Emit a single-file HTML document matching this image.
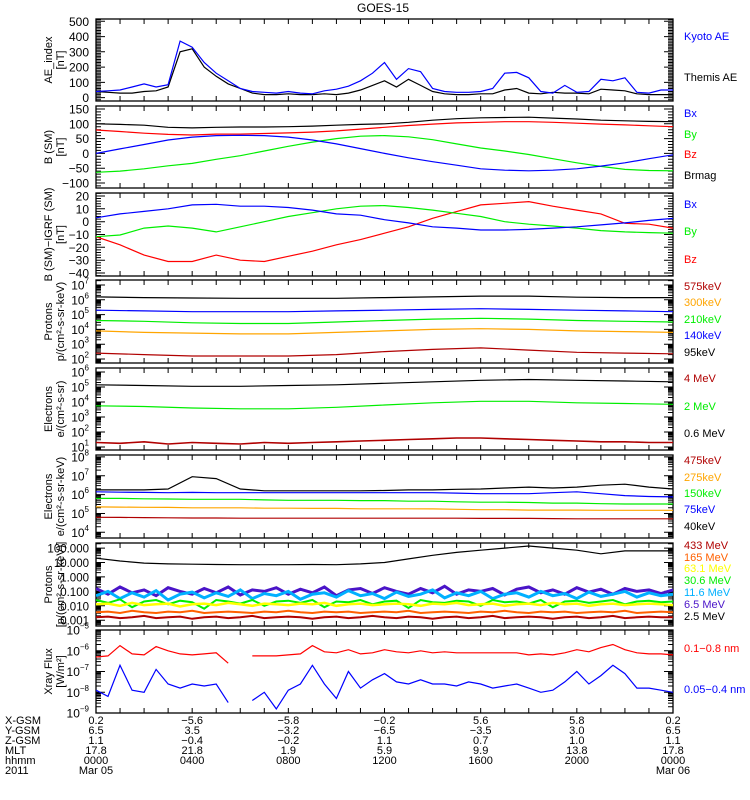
<!DOCTYPE html>
<html><head><meta charset="utf-8"><title>GOES-15</title>
<style>
html,body{margin:0;padding:0;background:#fff;}
svg{display:block;font-family:"Liberation Sans",sans-serif;}
</style></head>
<body>
<svg id="chart" width="750" height="800" viewBox="0 0 750 800" xmlns="http://www.w3.org/2000/svg">
<rect width="750" height="800" fill="#fff"/>
<text x="383" y="12" font-size="12" text-anchor="middle" fill="#000">GOES-15</text>
<g id="plots"></g>
</svg>
<script>
// ---------- data (time axis: hours 0..24, evenly spaced per array) ----------
const hourTicks = ["0000","0400","0800","1200","1600","2000","0000"];
const xGsm = ["0.2","-5.6","-5.8","-0.2","5.6","5.8","0.2"];
const yGsm = ["6.5","3.5","-3.2","-6.5","-3.5","3.0","6.5"];
const zGsm = ["1.1","-0.4","-0.2","1.1","0.7","1.0","1.1"];
const mltVals = ["17.8","21.8","1.9","5.9","9.9","13.8","17.8"];
const dateLabels = ["Mar 05","","","","","","Mar 06"];

// Panel 1: AE index (nT), every 30 min
const aeKyoto = [40,45,50,70,90,70,85,370,330,230,160,110,60,40,35,30,40,30,25,45,55,75,110,160,230,120,190,170,60,40,35,35,40,60,160,165,130,40,30,80,35,40,120,110,130,35,30,50,50];
const aeThemis = [40,35,30,30,40,45,70,300,320,200,140,90,60,30,20,20,25,20,20,25,20,30,50,80,110,70,120,80,40,25,20,20,25,25,50,60,30,25,35,30,30,25,55,50,45,25,20,20,20];

// Panel 2: B (SM) nT, hourly
const bsmBx = [0,15,30,45,55,60,61,60,55,45,32,16,0,-15,-28,-40,-52,-57,-59,-57,-52,-43,-32,-18,-5];
const bsmBy = [-64,-60,-52,-42,-34,-20,-8,8,24,38,50,58,60,56,46,32,18,8,-4,-18,-32,-44,-54,-58,-59];
const bsmBz = [79,74,68,64,62,65,65,67,69,72,76,82,88,94,99,103,105,107,107,105,102,99,96,93,90];
const bsmBmag = [100,98,95,88,86,88,89,89,90,92,95,98,100,105,112,117,120,121,122,119,116,112,110,108,107];

// Panel 3: B(SM)-IGRF nT, hourly
const dbBx = [3,6,8,10,13,13.5,12,12,11,9,6,5,1.5,-1,-4,-5,-6.5,-6.5,-6,-5,-4,-2.5,-1,1,2.5];
const dbBy = [-11.7,-10.4,-5,-3.4,-5,-8,-4,0,4,7,10,12,12.5,11,9,6.5,4,0,-2,-3.4,-5,-7,-8,-8.5,-9];
const dbBz = [-11.7,-18,-26,-31,-31,-26,-30,-31,-27,-23,-18,-14,-9,-4,2.6,7.8,13,14.3,15.6,12,9,6,-1.3,-2,-5];

// Panel 4: protons log10 flux, every 2 h
const pLog95 = [2.4,2.3,2.2,2.2,2.2,2.3,2.5,2.65,2.75,2.6,2.45,2.4,2.35];
const pLog140 = [3.9,3.8,3.75,3.7,3.7,3.8,3.9,4.0,4.05,4.0,3.9,3.85,3.8];
const pLog210 = [4.6,4.55,4.45,4.4,4.4,4.5,4.6,4.7,4.75,4.7,4.6,4.55,4.5];
const pLog300 = [5.3,5.25,5.2,5.2,5.2,5.25,5.3,5.35,5.4,5.35,5.3,5.25,5.2];
const pLog575 = [6.2,6.15,6.12,6.1,6.1,6.1,6.15,6.2,6.25,6.25,6.18,6.15,6.15];

// Panel 5: electrons (MeV) log10 flux
const eLog06 = [5.15,5.1,5.05,5.05,5.1,5.15,5.25,5.35,5.45,5.5,5.45,5.4,5.35];
const eLog2 = [3.75,3.7,3.6,3.55,3.55,3.65,3.8,3.95,4.05,4.05,3.95,3.9,3.85];
const eLog4 = [1.3,1.25,1.35,1.2,1.3,1.25,1.2,1.3,1.25,1.3,1.35,1.4,1.45,1.5,1.55,1.6,1.6,1.55,1.5,1.45,1.4,1.35,1.35,1.3,1.3];

// Panel 6: electrons (keV) log10 flux, hourly
const ekLog40 = [6.25,6.25,6.25,6.3,6.95,6.85,6.3,6.2,6.2,6.2,6.2,6.2,6.22,6.25,6.25,6.28,6.3,6.35,6.4,6.35,6.4,6.5,6.55,6.4,6.3];
const ekLog75 = [6.15,6.13,6.12,6.1,6.12,6.1,6.1,6.1,6.1,6.1,6.1,6.1,6.1,6.1,6.1,6.08,6.05,6.05,6.05,6.1,6.15,6.05,5.95,5.9,5.88];
const ekLog150 = [5.8,5.8,5.78,5.77,5.75,5.75,5.75,5.72,5.7,5.7,5.7,5.68,5.68,5.65,5.65,5.62,5.6,5.6,5.58,5.55,5.55,5.52,5.5,5.5,5.5];
const ekLog275 = [5.35,5.34,5.33,5.32,5.3,5.3,5.3,5.28,5.28,5.27,5.27,5.25,5.25,5.25,5.24,5.22,5.2,5.2,5.18,5.18,5.18,5.17,5.17,5.17,5.17];
const ekLog475 = [4.8,4.79,4.78,4.77,4.76,4.76,4.75,4.75,4.75,4.75,4.75,4.75,4.75,4.75,4.75,4.75,4.74,4.74,4.74,4.73,4.72,4.72,4.72,4.72,4.72];

// Panel 7: high-energy protons log10 flux
const hpLog25 = [1.3,1.1,0.96,0.9,0.88,0.86,0.85,0.85,0.85,0.86,0.85,0.9,1.0,1.25,1.5,1.7,1.85,2.0,2.14,2.0,1.85,1.6,1.8,1.8,1.8];
const hpLog65 = [-0.8,-1.2,-0.7,-1.1,-0.9,-1.3,-0.75,-1.0,-1.2,-0.8,-1.1,-0.7,-1.25,-0.9,-1.0,-0.75,-1.2,-0.85,-1.1,-0.7,-1.3,-0.9,-0.8,-1.15,-0.75,-1.0,-1.2,-0.8,-1.1,-0.65,-1.2,-0.9,-1.0,-0.8,-1.25,-0.85,-0.7,-1.1,-0.9,-1.2,-0.75,-1.05,-0.85,-1.2,-0.8,-1.0,-0.9,-1.15,-0.9];
const hpLog116 = [-1.3,-1.0,-1.5,-1.1,-1.4,-0.95,-1.6,-1.2,-1.05,-1.45,-1.1,-1.35,-0.9,-1.5,-1.15,-1.3,-1.0,-1.55,-1.2,-1.1,-1.4,-0.95,-1.3,-1.15,-1.5,-1.05,-1.35,-1.2,-0.9,-1.45,-1.1,-1.3,-1.0,-1.5,-1.2,-1.1,-1.4,-1.0,-1.3,-1.15,-1.5,-1.05,-1.35,-1.2,-1.0,-1.4,-1.1,-1.3,-1.2];
const hpLog306 = [-1.6,-1.8,-1.55,-2.1,-1.7,-1.6,-1.9,-1.65,-1.75,-2.2,-1.6,-1.7,-1.85,-1.6,-2.0,-1.7,-1.65,-1.8,-1.6,-2.1,-1.7,-1.75,-1.6,-1.9,-1.7,-1.65,-2.15,-1.6,-1.75,-1.8,-1.65,-1.7,-2.0,-1.6,-1.75,-1.7,-1.85,-1.6,-2.1,-1.7,-1.65,-1.8,-1.7,-1.6,-1.9,-1.7,-1.65,-1.75,-1.7];
const hpLog631 = [-1.9,-1.85,-2.0,-1.8,-1.95,-1.9,-1.85,-2.05,-1.9,-1.85,-1.95,-1.8,-1.9,-2.0,-1.85,-1.9,-1.95,-1.85,-1.9,-1.8,-2.0,-1.9,-1.85,-1.95,-1.9,-1.85,-1.9,-2.0,-1.85,-1.9,-1.8,-1.95,-1.9,-1.85,-2.0,-1.9,-1.85,-1.95,-1.8,-1.9,-1.85,-2.0,-1.9,-1.85,-1.95,-1.9,-1.85,-1.9,-1.95];
const hpLog165 = [-2.45,-2.4,-2.5,-2.35,-2.45,-2.5,-2.4,-2.45,-2.35,-2.5,-2.45,-2.4,-2.45,-2.5,-2.4,-2.45,-2.35,-2.45,-2.5,-2.4,-2.45,-2.4,-2.5,-2.45,-2.4,-2.45,-2.35,-2.5,-2.45,-2.4,-2.45,-2.5,-2.4,-2.45,-2.35,-2.45,-2.5,-2.4,-2.45,-2.4,-2.5,-2.45,-2.4,-2.45,-2.35,-2.5,-2.45,-2.4,-2.45];
const hpLog433 = [-2.8,-2.75,-2.85,-2.8,-2.7,-2.85,-2.8,-2.75,-2.9,-2.8,-2.75,-2.85,-2.8,-2.7,-2.85,-2.8,-2.75,-2.8,-2.9,-2.8,-2.75,-2.85,-2.8,-2.7,-2.8,-2.85,-2.75,-2.8,-2.9,-2.8,-2.75,-2.85,-2.8,-2.7,-2.85,-2.8,-2.75,-2.8,-2.9,-2.8,-2.75,-2.85,-2.8,-2.7,-2.85,-2.8,-2.75,-2.8,-2.8];

// Panel 8: X-ray flux log10 (W/m^2), every 30 min, null = data gap
const xrLong = [-6.3,-6.25,-5.75,-6.15,-6.2,-5.8,-6.0,-6.15,-6.2,-6.15,-6.1,-6.6,null,-6.25,-6.25,-6.25,-6.2,-6.15,-5.75,-6.05,-6.1,-5.95,-6.15,-6.1,-5.95,-6.05,-6.1,-6.0,-6.1,-6.05,-6.1,-6.1,-6.1,-6.1,-6.1,-6.1,-6.2,-6.15,-6.2,-6.1,-5.95,-6.05,-5.85,-5.7,-5.95,-6.1,-6.15,-6.15,-6.2];
const xrShort = [-7.9,-8.2,-6.7,-7.9,-8.0,-6.9,-7.6,-7.8,-7.6,-7.7,-7.6,-8.5,null,-8.4,-8.0,-8.8,-7.9,-7.6,-6.7,-7.6,-8.3,-7.0,-7.8,-7.4,-7.1,-7.5,-7.6,-7.4,-7.6,-7.6,-7.7,-7.5,-7.6,-7.8,-7.7,-7.6,-7.8,-8.0,-7.9,-7.5,-7.0,-7.6,-7.2,-6.7,-7.1,-7.8,-7.8,-7.9,-8.0];

// tick label arrays
const p1Ticks = [0,100,200,300,400,500];
const p2Ticks = [-100,-50,0,50,100,150];
const p3Ticks = [-40,-30,-20,-10,0,10,20];
const p4Exp = [2,3,4,5,6,7];
const p5Exp = [1,2,3,4,5,6];
const p6Exp = [4,5,6,7,8];
const p7Exp = [-3,-2,-1,0,1,2];
const p7Labels = ["0.001","0.010","0.100","1.000","10.000","100.000"];
const p8Exp = [-9,-8,-7,-6,-5];

// ---------- rendering ----------
const NS = "http://www.w3.org/2000/svg";
const root = document.getElementById("plots");
const X0 = 96, X1 = 673;
const panels = [
 {top:19, bot:101, min:-22, max:515},
 {top:106, bot:188, min:-117, max:160},
 {top:193, bot:276, min:-42.3, max:22.3},
 {top:280, bot:363, min:1.73, max:7.34},
 {top:368, bot:450, min:0.8, max:6.27},
 {top:455, bot:538, min:3.7, max:8.1},
 {top:543, bot:626, min:-3.4, max:2.35},
 {top:630, bot:713, min:-9, max:-5}
];
function xS(h){ return X0 + h/24*(X1-X0); }
function yS(p,v){ return p.bot - (v-p.min)/(p.max-p.min)*(p.bot-p.top); }
function mk(tag, attrs, parent){
  const e = document.createElementNS(NS, tag);
  for (const k in attrs) e.setAttribute(k, attrs[k]);
  (parent||root).appendChild(e);
  return e;
}
function txt(x,y,s,opts,parent){
  const t = mk("text", Object.assign({x:x,y:y,"font-size":11,fill:"#000"},opts||{}), parent);
  t.textContent = s;
  return t;
}

const defs = mk("defs",{});
panels.forEach((p,i)=>{
  const cp = mk("clipPath",{id:"clip"+i},defs);
  mk("rect",{x:X0,y:p.top,width:X1-X0,height:p.bot-p.top},cp);
});

function series(pi, arr, color, name, sw){
  const p = panels[pi];
  let d = "", pen = false;
  arr.forEach((v,i)=>{
    if (v === null){ pen = false; return; }
    const x = xS(i*24/(arr.length-1)), y = yS(p,v);
    d += (pen ? "L" : "M") + x.toFixed(1) + "," + y.toFixed(1);
    pen = true;
  });
  const el = mk("path",{d:d,fill:"none",stroke:color,"stroke-width":sw||1.2,"clip-path":"url(#clip"+pi+")"});
  
  
}

function frame(pi, name){
  const p = panels[pi];
  const r = mk("rect",{x:X0,y:p.top,width:X1-X0,height:p.bot-p.top,fill:"none",stroke:"#000","stroke-width":1.3});
  
  
  let d = "";
  for (let h=1; h<24; h++){
    const x = xS(h);
    d += "M"+x+","+p.bot+"v-5M"+x+","+p.top+"v5";
  }
  mk("path",{d:d,stroke:"#000","stroke-width":1,fill:"none"});
}
function linTicks(pi, major, minorStep, labels, name){
  const p = panels[pi];
  let d = "";
  const start = Math.ceil(p.min/minorStep)*minorStep;
  for (let v=start; v<=p.max+1e-9; v+=minorStep){
    const y = yS(p,v).toFixed(1);
    const isMaj = Math.abs(v/major - Math.round(v/major))<1e-6;
    const L = isMaj ? 9 : 5;
    d += "M"+X0+","+y+"h"+L+"M"+X1+","+y+"h-"+L;
  }
  mk("path",{d:d,stroke:"#000","stroke-width":1,fill:"none"});
  const g = mk("g",{});
  
  
  labels.forEach(v=>{
    txt(89, yS(p,v)+4.5, String(v).replace("-","\u2212"), {"font-size":12,"text-anchor":"end"}, g);
  });
}
function logTicks(pi, exps, name, customLabels){
  const p = panels[pi];
  let d = "";
  for (let e=Math.floor(p.min); e<=Math.ceil(p.max); e++){
    for (let k=1; k<10; k++){
      const v = e + Math.log10(k);
      if (v < p.min || v > p.max) continue;
      const y = yS(p,v).toFixed(1);
      const L = k===1 ? 9 : 5;
      d += "M"+X0+","+y+"h"+L+"M"+X1+","+y+"h-"+L;
    }
  }
  mk("path",{d:d,stroke:"#000","stroke-width":1,fill:"none"});
  const g = mk("g",{});
  
  
  exps.forEach((e,i)=>{
    const y = yS(p,e)+4.5;
    if (customLabels){
      txt(89, y, customLabels[i], {"font-size":11.5,"text-anchor":"end"}, g);
    } else {
      const t = txt(89, y, "10", {"font-size":12,"text-anchor":"end"}, g);
      const s = document.createElementNS(NS,"tspan");
      s.setAttribute("dy","-6"); s.setAttribute("font-size","8");
      s.textContent = String(e).replace("-","\u2212");
      t.appendChild(s);
    }
  });
}
function yTitle(pi, lines, name){
  const p = panels[pi];
  const cy = (p.top+p.bot)/2;
  const g = mk("g",{});
  
  
  lines.forEach((s,i)=>{
    const x = 52 + i*12;
    txt(x, cy, s, {"font-size":11,"text-anchor":"middle",transform:"rotate(-90 "+x+" "+cy+")"}, g);
  });
}
function legend(items, name){
  const g = mk("g",{});
  
  
  items.forEach(it=>{
    const t = txt(684, it[1], it[0], {"font-size":11, fill:it[2]}, g);
    
    
  });
}

const DR="#b00000", OR="#ffa500", GR="#00ee00", BL="#0000ff", RD="#ff0000", LB="#00b0ff", PU="#4a14c8", OR2="#ff6000", YE="#ffff00";

frame(0,"ae-panel");
linTicks(0,100,10,p1Ticks,"ae-y-ticks");
yTitle(0,["AE_index","[nT]"],"ae-y-title");
series(0, aeThemis, "#000", "themis-ae-line");
series(0, aeKyoto, BL, "kyoto-ae-line");
legend([["Kyoto AE",40,BL],["Themis AE",81,"#000"]],"ae-legend");

frame(1,"bsm-panel");
linTicks(1,50,10,p2Ticks,"bsm-y-ticks");
yTitle(1,["B (SM)","[nT]"],"bsm-y-title");
series(1, bsmBmag, "#000", "bmag-line");
series(1, bsmBz, RD, "bz-line");
series(1, bsmBy, GR, "by-line");
series(1, bsmBx, BL, "bx-line");
legend([["Bx",117,BL],["By",138,GR],["Bz",158,RD],["Brmag",179,"#000"]],"bsm-legend");

frame(2,"bigrf-panel");
linTicks(2,10,2,p3Ticks,"bigrf-y-ticks");
yTitle(2,["B (SM)\u2212IGRF (SM)","[nT]"],"bigrf-y-title");
series(2, dbBz, RD, "dbz-line");
series(2, dbBy, GR, "dby-line");
series(2, dbBx, BL, "dbx-line");
legend([["Bx",208,BL],["By",235,GR],["Bz",263,RD]],"bigrf-legend");

frame(3,"proton-kev-panel");
logTicks(3,p4Exp,"proton-kev-y-ticks");
yTitle(3,["Protons","p/(cm\u00b2-s-sr-keV)"],"proton-kev-y-title");
series(3, pLog95, DR, "proton-95kev-line");
series(3, pLog140, OR, "proton-140kev-line");
series(3, pLog210, GR, "proton-210kev-line");
series(3, pLog300, BL, "proton-300kev-line");
series(3, pLog575, "#000", "proton-575kev-line");
legend([["575keV",290,DR],["300keV",306,OR],["210keV",323,GR],["140keV",339,BL],["95keV",356,"#000"]],"proton-kev-legend");

frame(4,"electron-mev-panel");
logTicks(4,p5Exp,"electron-mev-y-ticks");
yTitle(4,["Electrons","e/(cm\u00b2-s-sr)"],"electron-mev-y-title");
series(4, eLog4, DR, "electron-4mev-line", 1.6);
series(4, eLog2, GR, "electron-2mev-line");
series(4, eLog06, "#000", "electron-06mev-line");
legend([["4 MeV",382,DR],["2 MeV",410,GR],["0.6 MeV",437,"#000"]],"electron-mev-legend");

frame(5,"electron-kev-panel");
logTicks(5,p6Exp,"electron-kev-y-ticks");
yTitle(5,["Electrons","e/(cm\u00b2-s-sr-keV)"],"electron-kev-y-title");
series(5, ekLog475, DR, "electron-475kev-line");
series(5, ekLog275, OR, "electron-275kev-line");
series(5, ekLog150, GR, "electron-150kev-line");
series(5, ekLog75, BL, "electron-75kev-line");
series(5, ekLog40, "#000", "electron-40kev-line");
legend([["475keV",464,DR],["275keV",481,OR],["150keV",497,GR],["75keV",513,BL],["40keV",530,"#000"]],"electron-kev-legend");

frame(6,"proton-mev-panel");
logTicks(6,p7Exp,"proton-mev-y-ticks",p7Labels);
yTitle(6,["Protons","[p/(cm\u00b2-s-sr-keV)]"],"proton-mev-y-title");
series(6, hpLog65, PU, "proton-6.5mev-line", 3);
series(6, hpLog116, LB, "proton-11.6mev-line", 3);
series(6, hpLog306, GR, "proton-30.6mev-line", 2);
series(6, hpLog631, YE, "proton-63.1mev-line", 2.5);
series(6, hpLog165, OR2, "proton-165mev-line", 2);
series(6, hpLog433, DR, "proton-433mev-line", 2);
series(6, hpLog25, "#000", "proton-2.5mev-line");
legend([["433 MeV",549,DR],["165 MeV",561,OR2],["63.1 MeV",572,YE],["30.6 MeV",584,GR],["11.6 MeV",596,LB],["6.5 MeV",608,PU],["2.5 MeV",620,"#000"]],"proton-mev-legend");

frame(7,"xray-panel");
logTicks(7,p8Exp,"xray-y-ticks");
yTitle(7,["Xray Flux","[W/m\u00b2]"],"xray-y-title");
series(7, xrLong, RD, "xray-long-line");
series(7, xrShort, BL, "xray-short-line");
legend([["0.1\u22120.8 nm",652,RD],["0.05\u22120.4 nm",693,BL]],"xray-legend");

const rows = [["X-GSM",xGsm,724],["Y-GSM",yGsm,734],["Z-GSM",zGsm,744],["MLT",mltVals,754],["hhmm",hourTicks,764],["2011",dateLabels,774]];
const gb = mk("g",{});


rows.forEach(r=>{
  txt(5, r[2], r[0], {"font-size":11}, gb);
  r[1].forEach((s,i)=>{
    if (!s) return;
    txt(xS(i*4), r[2], s.replace(/^-/,"\u2212"), {"font-size":11,"text-anchor":"middle"}, gb);
  });
});
</script>
</body></html>
